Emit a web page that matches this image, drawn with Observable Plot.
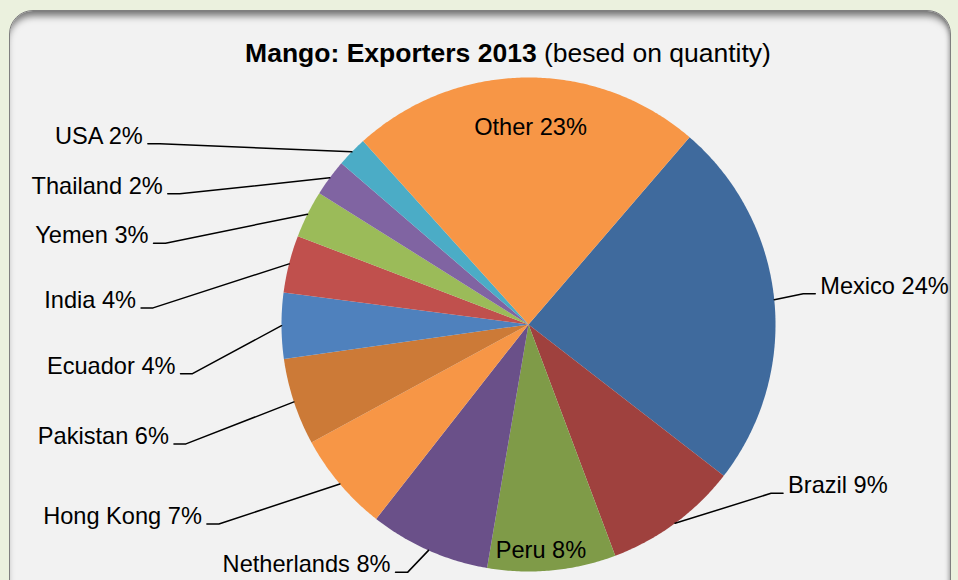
<!DOCTYPE html>
<html><head><meta charset="utf-8">
<script src="https://cdn.jsdelivr.net/npm/d3@7"></script>
<script src="https://cdn.jsdelivr.net/npm/@observablehq/plot@0.6"></script>
<style>
html,body{margin:0;padding:0;}
body{width:958px;height:580px;overflow:hidden;background:#ebf1de;position:relative;font-family:"Liberation Sans",Arial,sans-serif;}
#panel{position:absolute;left:9px;top:10px;width:940px;height:620px;background:#f2f2f2;border:1.5px solid #7f7f7f;border-radius:24px;box-shadow:inset 0 8px 7px -3px rgba(0,0,0,0.5), inset -3px 0 4px -2px rgba(0,0,0,0.25);}
#title{position:absolute;left:508px;top:40px;transform:translateX(-50%);white-space:nowrap;font-size:26.5px;line-height:1;color:#000;}
#chart{position:absolute;left:0;top:0;}
</style></head><body>
<div id="panel"></div>
<div id="chart"></div>
<div id="title"><b>Mango: Exporters 2013</b> (besed on quantity)</div>
<script>
// ---- data ----
const countries = ["Mexico","Brazil","Peru","Netherlands","Hong Kong","Pakistan","Ecuador","India","Yemen","Thailand","USA","Other"];
const shares    = [24.2, 8.8, 8.4, 7.9, 6.5, 5.7, 4.3, 3.75, 3.1, 2.4, 2.0, 23.0];
const colors    = ["#3f6a9d","#9f413e","#7f9b48","#6a5089","#f79646","#cc7a37","#4f81bd","#c0504d","#9bbb59","#8064a2","#4bacc6","#f79646"];

// ---- layout (label placement, pixels relative to slice edge point) ----
const labelInside  = [false,false,true,false,false,false,false,false,false,false,false,true];
const labelOffsets = [[29,-6],[96,-30],[-11,-12],[-21,22],[-121,40],[-108,42],[-89,48],[-136,44],[-142,29],[-150,16],[-192,-8],[5,57]];
const R = 247;            // pie radius in px
const startDeg = 40.7;    // angle of first slice start (clockwise from top)

const rows = countries.map((c,i)=>({name:c, share:shares[i], color:colors[i], inside:labelInside[i], off:labelOffsets[i]}));
const s0 = startDeg*Math.PI/180;
const arcs = d3.pie().sort(null).value(d=>d.share).startAngle(s0).endAngle(s0+2*Math.PI)(rows);

const slicePts = [];
const leaders = [];
const leftLabels = [], rightLabels = [], insideLabels = [];
for (const a of arcs) {
  const d = a.data;
  const n = Math.max(2, Math.ceil((a.endAngle-a.startAngle)/(Math.PI/360)));
  slicePts.push({name:d.name, color:d.color, x:0, y:0});
  for (let k=0;k<=n;k++){
    const t = a.startAngle + (a.endAngle-a.startAngle)*k/n;
    slicePts.push({name:d.name, color:d.color, x:Math.sin(t), y:Math.cos(t)});
  }
  slicePts.push({name:d.name, color:d.color, x:0, y:0});
  const mid = (a.startAngle+a.endAngle)/2;
  const ex = Math.sin(mid), ey = Math.cos(mid);
  const label = `${d.name} ${Math.round(d.share)}%`;
  const bx = ex + d.off[0]/R, by = ey - d.off[1]/R;
  if (d.inside) {
    insideLabels.push({x:bx, y:by, label});
  } else {
    const dir = d.off[0] < 0 ? -1 : 1;
    const hx = bx + dir*12/R;
    leaders.push({name:d.name, x:ex, y:ey});
    leaders.push({name:d.name, x:bx, y:by});
    leaders.push({name:d.name, x:hx, y:by});
    const lab = {x: hx + dir*5/R, y: by, label};
    (dir < 0 ? leftLabels : rightLabels).push(lab);
  }
}

const textStyle = {x:"x", y:"y", text:"label", fontSize:23.6, fontFamily:"Liberation Sans, Arial, sans-serif", fill:"#000", lineAnchor:"bottom"};
const cx = 528, cy = 324, W = 958, H = 580;
const chart = Plot.plot({
  width: W, height: H,
  marginLeft: cx-R, marginRight: W-(cx+R), marginTop: cy-R, marginBottom: H-(cy+R),
  x: {domain:[-1,1], axis:null},
  y: {domain:[-1,1], axis:null},
  color: {type:"identity"},
  style: {background:"transparent", overflow:"visible"},
  marks: [
    Plot.line(slicePts, {x:"x", y:"y", z:"name", fill:"color", stroke:"none", curve:"linear"}),
    Plot.line(leaders, {x:"x", y:"y", z:"name", stroke:"#000", strokeWidth:1.5}),
    Plot.text(leftLabels, {...textStyle, textAnchor:"end"}),
    Plot.text(rightLabels, {...textStyle, textAnchor:"start"}),
    Plot.text(insideLabels, {...textStyle, textAnchor:"middle"})
  ]
});
document.getElementById("chart").appendChild(chart);
</script>
</body></html>
